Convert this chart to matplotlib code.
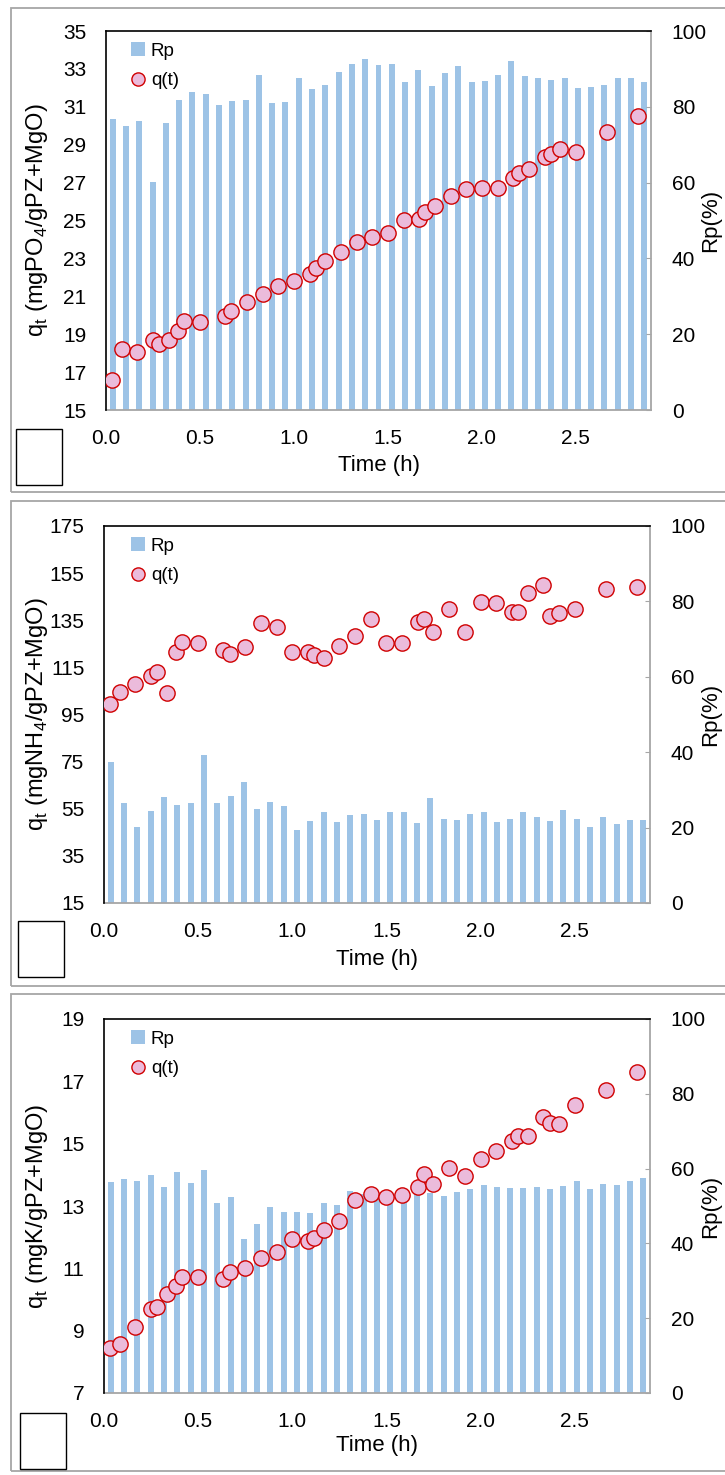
import matplotlib
matplotlib.use("Agg")
import matplotlib.pyplot as plt
from matplotlib.patches import Rectangle, Patch
from matplotlib.lines import Line2D

plt.rcParams["font.family"] = ["Liberation Sans Narrow", "Liberation Sans", "DejaVu Sans"]
plt.rcParams["mathtext.fontset"] = "custom"
plt.rcParams["mathtext.rm"] = "Liberation Sans Narrow"

W, H = 725, 1475

# sampling times (min) for q(t)
t_min = [2, 5, 10, 15, 17, 20, 23, 25, 30, 38, 40, 45, 50, 55, 60, 65, 67, 70, 75, 80,
         85, 90, 95, 100, 102, 105, 110, 115, 120, 125, 130, 132, 135, 140, 142, 145,
         150, 160, 170]

q_po4 = [16.59, 18.21, 18.05, 18.70, 18.48, 18.67, 19.18, 19.71, 19.66, 19.94, 20.20,
         20.68, 21.14, 21.52, 21.79, 22.18, 22.48, 22.85, 23.35, 23.85, 24.15, 24.35,
         25.02, 25.09, 25.46, 25.79, 26.29, 26.64, 26.69, 26.73, 27.26, 27.52, 27.74,
         28.35, 28.49, 28.76, 28.61, 29.69, 30.52]
rp_po4 = [76.7, 75.0, 76.3, 60.1, 75.6, 81.7, 83.8, 83.3, 80.4, 81.4, 81.7, 88.4, 81.0,
          81.3, 87.6, 84.7, 85.7, 89.1, 91.3, 92.7, 91.0, 91.2, 86.5, 89.7, 85.4, 88.9,
          90.7, 86.6, 86.7, 88.4, 92.1, 88.1, 87.6, 87.0, 87.5, 84.9, 85.1, 85.7, 87.5,
          87.5, 86.5]

q_nh4 = [99.3, 104.4, 107.8, 111.5, 113.2, 104.2, 121.6, 125.9, 125.5, 122.4, 120.7,
         123.5, 133.7, 132.0, 121.6, 121.6, 120.2, 119.1, 124.1, 128.3, 135.4, 125.2,
         125.2, 134.4, 135.4, 130.1, 139.8, 129.9, 142.9, 142.2, 138.6, 138.6, 146.4,
         150.0, 136.8, 138.2, 139.8, 148.1, 149.0]
rp_nh4 = [37.5, 26.4, 20.2, 24.4, 28.2, 25.9, 26.4, 39.3, 26.6, 28.4, 32.1, 25.0, 26.9,
          25.8, 19.4, 21.8, 24.2, 21.6, 23.4, 23.6, 22.1, 24.1, 24.1, 21.2, 27.9, 22.3,
          21.9, 23.6, 24.2, 21.6, 22.2, 24.1, 22.7, 21.8, 24.8, 22.3, 20.2, 22.7, 21.0,
          22.0, 22.0]

q_k = [8.44, 8.56, 9.11, 9.70, 9.75, 10.17, 10.43, 10.73, 10.73, 10.65, 10.89, 11.00,
       11.34, 11.53, 11.93, 11.88, 11.96, 12.22, 12.52, 13.19, 13.38, 13.30, 13.35, 13.62,
       14.03, 13.70, 14.21, 13.97, 14.50, 14.77, 15.10, 15.26, 15.26, 15.87, 15.67, 15.63,
       16.24, 16.72, 17.31]
rp_k = [56.4, 57.2, 56.8, 58.3, 55.1, 59.1, 56.2, 59.5, 50.7, 52.3, 41.1, 45.1, 49.7,
        48.4, 48.4, 48.0, 50.7, 50.3, 54.1, 53.2, 52.5, 52.1, 51.6, 53.4, 53.6, 52.8,
        53.8, 54.5, 55.6, 55.1, 54.8, 54.8, 55.2, 54.5, 55.4, 56.6, 54.5, 55.8, 55.7,
        56.6, 57.4]

x_ticks = [0.0, 0.5, 1.0, 1.5, 2.0, 2.5]
rp_ticks = [0, 20, 40, 60, 80, 100]

BAR_BLUE = "#9DC3E6"
PINK = "#EBBBDB"
RED = "#D00000"
GREY = "#A6A6A6"


def frac_rect(l, t, r, b):
    return [l / W, 1 - b / H, (r - l) / W, (b - t) / H]


def draw_panel(fig, plot_px, box_px, square_px, q, rp, ylim, yticks, ylabel):
    l, t, r, b = plot_px
    ax_bar = fig.add_axes(frac_rect(*plot_px))
    ax = fig.add_axes(frac_rect(*plot_px))
    ax.patch.set_visible(False)

    # bars on a category axis, right-hand scale
    cats = list(range(len(rp)))
    ax_bar.bar(cats, rp, width=0.45, color=BAR_BLUE, linewidth=0)
    ax_bar.set_xlim(-0.5, len(rp) - 0.5)
    ax_bar.set_ylim(0, 100)
    ax_bar.set_xticks([])
    ax_bar.yaxis.tick_right()
    ax_bar.yaxis.set_label_position("right")
    ax_bar.set_yticks(rp_ticks)
    ax_bar.tick_params(axis="y", direction="in", length=3.6, color=GREY, pad=15,
                       labelsize=15)
    for side in ["top", "left"]:
        ax_bar.spines[side].set_visible(False)
    for side in ["right", "bottom"]:
        ax_bar.spines[side].set_color(GREY)
        ax_bar.spines[side].set_linewidth(1.3)
    ax_bar.set_ylabel("Rp(%)", fontsize=16, ha="center", va="center", rotation=90)
    ax_bar.yaxis.set_label_coords((711 - l) / (r - l), 0.5)

    # q(t) scatter
    hours = [m / 60 for m in t_min]
    ax.plot(hours, q, linestyle="none", marker="o", markersize=11,
            markerfacecolor=PINK, markeredgecolor=RED, markeredgewidth=1.0, zorder=3)
    ax.set_xlim(0, 2.9)
    ax.set_ylim(*ylim)
    ax.set_yticks(yticks)
    ax.set_xticks(x_ticks)
    ax.set_xticklabels([f"{v:.1f}" for v in x_ticks])
    ax.tick_params(length=0, pad=14, labelsize=15)
    for side in ["right", "bottom"]:
        ax.spines[side].set_visible(False)
    for side in ["top", "left"]:
        ax.spines[side].set_color("black")
        ax.spines[side].set_linewidth(1.2)
    ax.set_xlabel("Time (h)", fontsize=16, va="center")
    ax.xaxis.set_label_coords(0.5, -(box_px[3] - 26 - b) / (b - t))
    ax.set_ylabel(ylabel, fontsize=17, ha="center", va="center")
    ax.yaxis.set_label_coords((37 - l) / (r - l), 0.5)

    handles = [Patch(facecolor=BAR_BLUE, edgecolor="none"),
               Line2D([], [], linestyle="none", marker="o", markersize=9.5,
                      markerfacecolor=PINK, markeredgecolor=RED, markeredgewidth=1.0)]
    ax.legend(handles, ["Rp", "q(t)"], loc="upper left", frameon=False, fontsize=13.5,
              bbox_to_anchor=((120 - l) / (r - l), 1.0), handlelength=0.75,
              handleheight=0.75, handletextpad=0.3, labelspacing=0.65, borderaxespad=0.2)

    x0, y0, x1, y1 = box_px
    fig.add_artist(Rectangle((x0 / W, 1 - y1 / H), (x1 - x0) / W, (y1 - y0) / H,
                             transform=fig.transFigure, fill=False, edgecolor=GREY,
                             linewidth=1.3))
    sx0, sy0, sx1, sy1 = square_px
    fig.add_artist(Rectangle((sx0 / W, 1 - sy1 / H), (sx1 - sx0) / W, (sy1 - sy0) / H,
                             transform=fig.transFigure, fill=False, edgecolor="black",
                             linewidth=1.0))


fig = plt.figure(figsize=(W / 100, H / 100), dpi=100)
fig.patch.set_facecolor("white")

draw_panel(fig, (106, 31, 651, 410), (10.5, 7.5, 760, 491.5), (16, 429, 62, 485),
           q_po4, rp_po4, (15, 35), list(range(15, 36, 2)),
           r"q$_\mathregular{t}$ (mgPO$_\mathregular{4}$/gPZ+MgO)")
draw_panel(fig, (104, 526, 650, 903), (10.5, 501, 760, 986), (18, 921, 64, 977),
           q_nh4, rp_nh4, (15, 175), list(range(15, 176, 20)),
           r"q$_\mathregular{t}$ (mgNH$_\mathregular{4}$/gPZ+MgO)")
draw_panel(fig, (104, 1019, 650, 1393), (10.5, 994, 760, 1471), (19.5, 1413, 65.5, 1469),
           q_k, rp_k, (7, 19), list(range(7, 20, 2)),
           r"q$_\mathregular{t}$ (mgK/gPZ+MgO)")

fig.savefig("out.png", dpi=100)
